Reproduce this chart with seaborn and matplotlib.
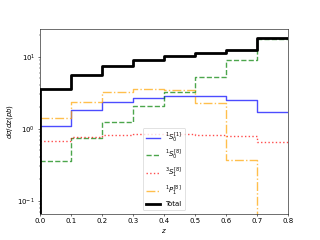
import numpy as np
import matplotlib
matplotlib.use("Agg")
import matplotlib.pyplot as plt
import seaborn as sns

# bins in z
edges = [0.0, 0.1, 0.2, 0.3, 0.4, 0.5, 0.6, 0.7, 0.8]
centers = [0.05, 0.15, 0.25, 0.35, 0.45, 0.55, 0.65, 0.75]

# dsigma/dz (pb) per channel
s1_singlet = [1.09, 1.82, 2.38, 2.70, 2.86, 2.80, 2.49, 1.73]
s0_octet = [0.36, 0.75, 1.25, 2.05, 3.28, 5.20, 9.0, 17.8]
s1_octet = [0.667, 0.775, 0.83, 0.85, 0.85, 0.83, 0.79, 0.65]
p1_octet = [1.40, 2.33, 3.18, 3.61, 3.43, 2.30, 0.365, 0.0]
total = [3.5, 5.6, 7.5, 9.1, 10.1, 11.1, 12.4, 18.4]

plt.rcParams['font.family'] = ['DejaVu Sans']

fig, ax = plt.subplots(figsize=(6.4, 4.8), dpi=50)

series = [
    (s1_singlet, r'$^1S_0^{[1]}$', 'blue', '-', 2, 0.7),
    (s0_octet, r'$^1S_0^{[8]}$', 'green', '--', 2, 0.7),
    (s1_octet, r'$^3S_1^{[8]}$', 'red', ':', 2, 0.7),
    (p1_octet, r'$^1P_1^{[8]}$', 'orange', '-.', 2, 0.7),
    (total, 'Total', 'black', '-', 4, 1.0),
]

for vals, lab, col, ls, lw, a in series:
    sns.histplot(x=centers, weights=vals, bins=edges, element='step', fill=False,
                 color=col, linestyle=ls, linewidth=lw, alpha=a, label=lab, ax=ax)
    # drop to the baseline at z=0 like a step histogram
    ax.vlines(edges[0], 1e-3, vals[0], colors=col, linestyles=ls, linewidth=lw, alpha=a)

ax.set_yscale('log')
ax.set_xlim(0, 0.8)
ax.set_ylim(0.0665, 24.3)
ax.set_xlabel('$z$')
ax.set_ylabel(r'$d\sigma/dz(pb)$')
ax.legend(loc='lower center')

fig.savefig('out.png', dpi=50)
